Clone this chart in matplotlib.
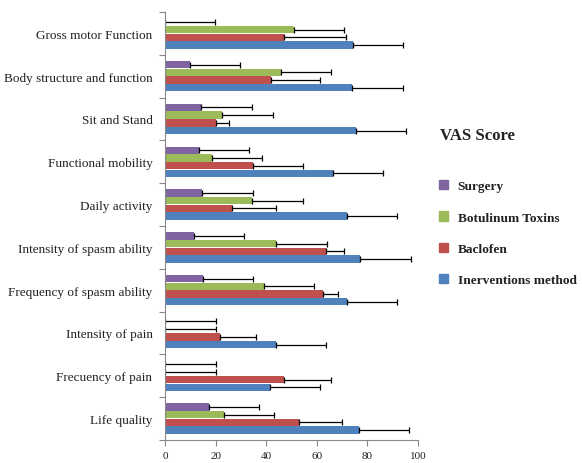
import matplotlib
matplotlib.use("Agg")
import matplotlib.pyplot as plt
import numpy as np
from matplotlib.patches import Patch

categories = ["Life quality", "Frecuency of pain", "Intensity of pain",
              "Frequency of spasm ability", "Intensity of spasm ability",
              "Daily activity", "Functional mobility", "Sit and Stand",
              "Body structure and function", "Gross motor Function"]

series_names = ["Inerventions method", "Baclofen", "Botulinum Toxins", "Surgery"]

interventions = [76.6, 41.4, 43.7, 71.8, 77.2, 71.8, 66.3, 75.5, 74.0, 74.2]
interventions_err = [19.8, 20.0, 20.1, 19.9, 19.9, 19.9, 19.9, 19.9, 20.1, 20.0]
baclofen = [53.1, 46.9, 21.6, 62.3, 63.5, 26.4, 34.7, 20.2, 42.0, 46.9]
baclofen_err = [16.7, 18.6, 14.5, 6.2, 7.1, 17.3, 19.7, 5.0, 19.4, 24.5]
botulinum = [23.2, 0, 0, 39.1, 44.0, 34.3, 18.4, 22.7, 45.7, 50.9]
botulinum_err = [20.0, 20.0, 20.0, 19.9, 19.9, 20.1, 19.9, 20.1, 20.0, 20.0]
surgery = [17.3, 0, 0, 15.0, 11.3, 14.8, 13.3, 14.4, 9.8, 0]
surgery_err = [19.9, 20.0, 20.0, 19.9, 19.9, 19.9, 19.9, 20.0, 20.0, 19.9]

colors = ["#4F81BD", "#C0504D", "#9BBB59", "#8064A2"]

values = [interventions, baclofen, botulinum, surgery]
errors = [interventions_err, baclofen_err, botulinum_err, surgery_err]

fig = plt.figure(figsize=(5.82, 4.64), dpi=100)
ax = fig.add_axes([165/582, 1-441/464, (418-165)/582, (441-13)/464])

serif = ["Liberation Serif", "DejaVu Serif"]
y = np.arange(len(categories))
h = 0.18
offsets = [-1.5*h, -0.5*h, 0.5*h, 1.5*h]
for vals, errs, col, off, name in zip(values, errors, colors, offsets, series_names):
    ax.barh(y + off, vals, height=h*0.95, color=col, edgecolor="none", label=name,
            xerr=[np.zeros(len(errs)), errs],
            error_kw=dict(ecolor="black", elinewidth=0.9, capsize=2.5, capthick=0.9))

ax.set_xlim(0, 100)
ax.set_ylim(-0.5, len(categories) - 0.5)
ax.set_xticks([0, 20, 40, 60, 80, 100])
ax.set_yticks(y)
ax.set_yticklabels(categories, fontsize=9.5, family=serif, color="#222222")
ax.set_yticks(np.arange(len(categories) + 1) - 0.5, minor=True)
ax.tick_params(axis="y", which="major", length=0, pad=9)
ax.tick_params(axis="y", which="minor", length=4, color="#888888", width=0.8)
ax.tick_params(axis="x", length=4, color="#888888", width=0.8, labelsize=8, pad=4)
for lbl in ax.get_xticklabels():
    lbl.set_family(serif)
    lbl.set_color("#222222")
for s in ["top", "right"]:
    ax.spines[s].set_visible(False)
for s in ["left", "bottom"]:
    ax.spines[s].set_color("#888888")
    ax.spines[s].set_linewidth(0.8)

fig.text(440/582, 1-136/464, "VAS Score", fontsize=12, fontweight="bold",
         family=serif, color="#222222", va="center", ha="left")

handles = [Patch(color=c) for c in reversed(colors)]
labels = list(reversed(series_names))
leg = fig.legend(handles, labels, loc="upper left", bbox_to_anchor=(427/582, 1-169/464),
                 frameon=False, handlelength=0.7, handleheight=0.7, handletextpad=0.7,
                 labelspacing=1.42, prop=dict(family=serif, weight="bold", size=9.6))
for t in leg.get_texts():
    t.set_color("#222222")

fig.savefig("out.png", dpi=100)
